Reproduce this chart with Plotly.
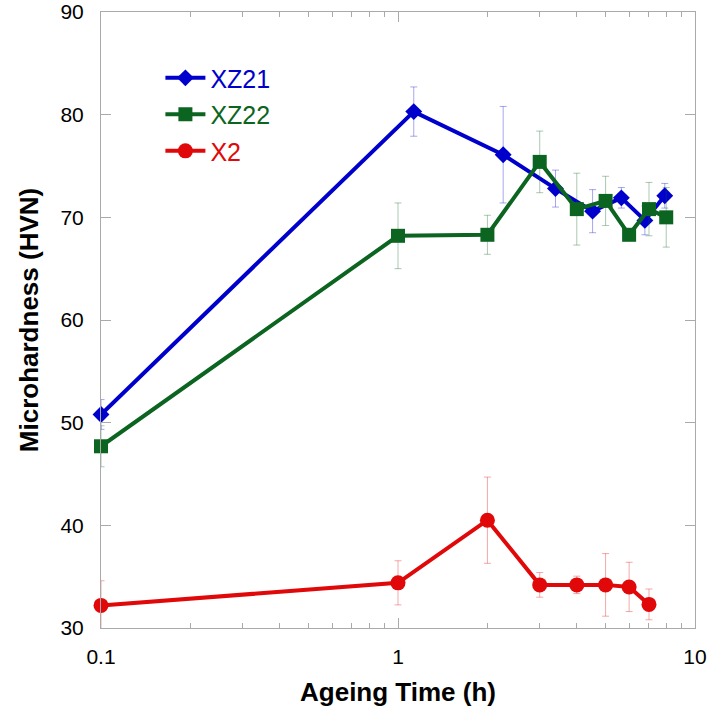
import plotly.graph_objects as go

# ---- data ----
t_xz21 = [0.1, 1.13, 2.26, 3.39, 4.52, 5.65, 6.78, 7.91]
hv_xz21 = [50.8, 80.3, 76.1, 72.8, 70.6, 71.9, 69.7, 72.1]
err_xz21 = [1.45, 2.4, 4.7, 1.8, 2.1, 1.0, 1.4, 1.2]

t_xz22 = [0.1, 1, 2, 3, 4, 5, 6, 7, 8]
hv_xz22 = [47.7, 68.2, 68.3, 75.4, 70.8, 71.6, 68.3, 70.8, 70.0]
err_xz22 = [2.0, 3.2, 1.9, 3.0, 3.5, 2.4, 0.5, 2.6, 2.9]

t_x2 = [0.1, 1, 2, 3, 4, 5, 6, 7]
hv_x2 = [32.2, 34.4, 40.5, 34.2, 34.2, 34.2, 34.0, 32.3]
err_x2 = [2.4, 2.15, 4.2, 1.2, 0.85, 3.05, 2.4, 1.5]

x_major = [0.1, 1, 10]
x_major_text = ["0.1", "1", "10"]
x_minor = [0.2, 0.3, 0.4, 0.5, 0.6, 0.7, 0.8, 0.9, 2, 3, 4, 5, 6, 7, 8, 9]

BLUE = "#0000CC"
GREEN = "#0B6420"
RED = "#E00808"

FONT = "Liberation Sans, Arial, sans-serif"

fig = go.Figure()

series = [
    ("XZ21", t_xz21, hv_xz21, err_xz21, BLUE, "rgba(0,0,204,0.35)", "diamond", 13),
    ("XZ22", t_xz22, hv_xz22, err_xz22, GREEN, "rgba(11,100,32,0.35)", "square", 14),
    ("X2", t_x2, hv_x2, err_x2, RED, "rgba(224,8,8,0.35)", "circle", 15),
]

for name, x, y, e, col, ecol, sym, size in series:
    fig.add_trace(go.Scatter(
        x=x, y=y,
        mode="lines+markers",
        name=f"<span style='color:{col}'>{name}</span>",
        legendgroup=name,
        line=dict(color=col, width=4),
        marker=dict(color=col, symbol=sym, size=size, line=dict(width=0)),
        error_y=dict(type="data", array=e, visible=True, color=ecol,
                     thickness=1, width=3.5),
        cliponaxis=False,
    ))

axis_col = "#AAAAAA"

fig.update_layout(
    width=711, height=717,
    margin=dict(l=101, r=16, t=12, b=89, autoexpand=False),
    paper_bgcolor="white", plot_bgcolor="white",
    font=dict(family=FONT, color="black"),
    showlegend=True,
    legend=dict(
        x=0.1, y=0.93, xanchor="left", yanchor="top",
        bgcolor="rgba(0,0,0,0)",
        font=dict(size=25, family=FONT),
        itemwidth=40,
        tracegroupgap=1,
    ),
    xaxis=dict(
        type="log", range=[-1, 1], automargin=False,
        tickmode="array", tickvals=x_major, ticktext=x_major_text,
        ticks="inside", ticklen=10, tickcolor=axis_col, tickwidth=1,
        minor=dict(tickmode="array", tickvals=x_minor, ticks="inside",
                   ticklen=5, tickcolor=axis_col, showgrid=False),
        showline=True, linecolor=axis_col, linewidth=1, mirror="allticks",
        showgrid=False, zeroline=False,
        tickfont=dict(size=21, family=FONT),
        ticklabelstandoff=10,
        title=dict(text="<b>Ageing Time (h)</b>", font=dict(size=26, family=FONT),
                   standoff=15),
    ),
    yaxis=dict(
        range=[30, 90], tickmode="linear", tick0=30, dtick=10, automargin=False,
        ticks="inside", ticklen=10, tickcolor=axis_col, tickwidth=1,
        showline=True, linecolor=axis_col, linewidth=1, mirror="allticks",
        showgrid=False, zeroline=False,
        tickfont=dict(size=21, family=FONT),
        ticklabelstandoff=12,
        title=dict(text="<b>Microhardness (HVN)</b>", font=dict(size=26, family=FONT),
                   standoff=14),
    ),
)

fig.write_html("out.html")
